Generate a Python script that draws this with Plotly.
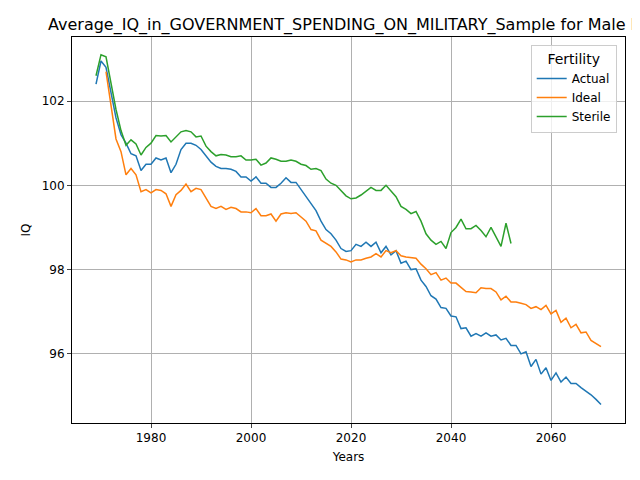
import plotly.graph_objects as go

actual_years = list(range(1969, 2071))
actual = [102.4, 102.95, 102.8, 102.2, 101.6, 101.2, 101.0, 100.75, 100.7, 100.35,
          100.5, 100.5, 100.65, 100.6, 100.65, 100.3, 100.5, 100.85, 101.0, 101.0,
          100.95, 100.85, 100.7, 100.55, 100.45, 100.4, 100.4, 100.38, 100.33, 100.2,
          100.2, 100.1, 100.2, 100.05, 100.05, 99.95, 99.95, 100.05, 100.18, 100.07,
          100.07, 99.9, 99.75, 99.55, 99.4, 99.15, 98.95, 98.85, 98.7, 98.5,
          98.43, 98.45, 98.6, 98.55, 98.65, 98.55, 98.65, 98.4, 98.55, 98.35,
          98.45, 98.15, 98.2, 98.0, 98.02, 97.75, 97.6, 97.38, 97.3, 97.1,
          97.08, 96.9, 96.88, 96.6, 96.62, 96.42, 96.48, 96.42, 96.5, 96.42,
          96.45, 96.33, 96.37, 96.2, 96.2, 96.0, 96.05, 95.7, 95.87, 95.52,
          95.67, 95.37, 95.55, 95.33, 95.45, 95.3, 95.3, 95.2, 95.12, 95.03,
          94.92, 94.8]

ideal_years = list(range(1971, 2071))
ideal = [102.7, 101.9, 101.1, 100.8, 100.25, 100.4, 100.25, 99.85, 99.9, 99.82,
         99.9, 99.88, 99.8, 99.5, 99.78, 99.88, 100.03, 99.85, 99.93, 99.9,
         99.7, 99.5, 99.45, 99.5, 99.43, 99.48, 99.45, 99.37, 99.37, 99.35,
         99.45, 99.28, 99.28, 99.32, 99.15, 99.32, 99.35, 99.33, 99.35, 99.25,
         99.15, 98.95, 98.92, 98.7, 98.63, 98.55, 98.42, 98.25, 98.23, 98.18,
         98.23, 98.23, 98.27, 98.3, 98.38, 98.3, 98.45, 98.4, 98.45, 98.33,
         98.3, 98.28, 98.27, 98.13, 98.02, 97.88, 97.93, 97.75, 97.8, 97.68,
         97.68, 97.58, 97.48, 97.47, 97.45, 97.57, 97.55, 97.55, 97.47, 97.28,
         97.37, 97.23, 97.23, 97.2, 97.17, 97.08, 97.12, 97.05, 97.15, 96.95,
         97.03, 96.75, 96.85, 96.62, 96.7, 96.5, 96.52, 96.32, 96.25, 96.17]

sterile_years = list(range(1969, 2053))
sterile = [102.6, 103.1, 103.05, 102.4, 101.8, 101.3, 100.95, 101.08, 100.98, 100.72,
           100.9, 101.0, 101.18, 101.17, 101.18, 101.03, 101.15, 101.27, 101.3, 101.27,
           101.15, 101.17, 100.93, 100.8, 100.7, 100.73, 100.72, 100.68, 100.68, 100.7,
           100.6, 100.6, 100.62, 100.48, 100.53, 100.65, 100.62, 100.57, 100.57, 100.6,
           100.57, 100.5, 100.47, 100.38, 100.4, 100.35, 100.15, 100.05, 100.0, 99.88,
           99.75, 99.68, 99.7, 99.77, 99.87, 99.95, 99.88, 99.88, 100.0, 99.87,
           99.73, 99.5, 99.43, 99.33, 99.38, 99.15, 98.85, 98.7, 98.6, 98.67,
           98.5, 98.88, 99.0, 99.2, 98.97, 98.97, 99.05, 98.93, 98.78, 99.0,
           98.77, 98.55, 99.1, 98.62]

fig = go.Figure()
fig.add_trace(go.Scatter(x=actual_years, y=actual, mode="lines", name="Actual",
                         line=dict(color="#1f77b4", width=1.5)))
fig.add_trace(go.Scatter(x=ideal_years, y=ideal, mode="lines", name="Ideal",
                         line=dict(color="#ff7f0e", width=1.5)))
fig.add_trace(go.Scatter(x=sterile_years, y=sterile, mode="lines", name="Sterile",
                         line=dict(color="#2ca02c", width=1.5)))

axis = dict(showgrid=True, gridcolor="#b0b0b0", gridwidth=1, showline=True,
            linecolor="black", mirror=True, ticks="outside", ticklen=4,
            zeroline=False, tickfont=dict(size=12, color="black"))
fig.update_xaxes(axis, range=[1964.2, 2074.8], tickvals=[1980, 2000, 2020, 2040, 2060],
                 title=dict(text="Years", font=dict(size=12), standoff=8))
fig.update_yaxes(axis, range=[94.36, 103.52], tickvals=[96, 98, 100, 102],
                 title=dict(text="IQ", font=dict(size=12), standoff=8))
fig.update_layout(
    width=640, height=480,
    margin=dict(l=64, r=23, t=29, b=65),
    paper_bgcolor="white", plot_bgcolor="white",
    font=dict(family="DejaVu Sans", color="black", size=12),
    title=dict(text="Average_IQ_in_GOVERNMENT_SPENDING_ON_MILITARY_Sample for Male Population",
               x=40 / 640, xanchor="left", xref="container", y=1 - 16 / 480, yanchor="middle",
               font=dict(size=16)),
    legend=dict(title=dict(text="Fertility", side="top center"), x=0.985, y=0.98,
                xanchor="right", yanchor="top", bordercolor="#cccccc", borderwidth=1,
                bgcolor="rgba(255,255,255,0.8)"),
)
fig.write_html("out.html")
